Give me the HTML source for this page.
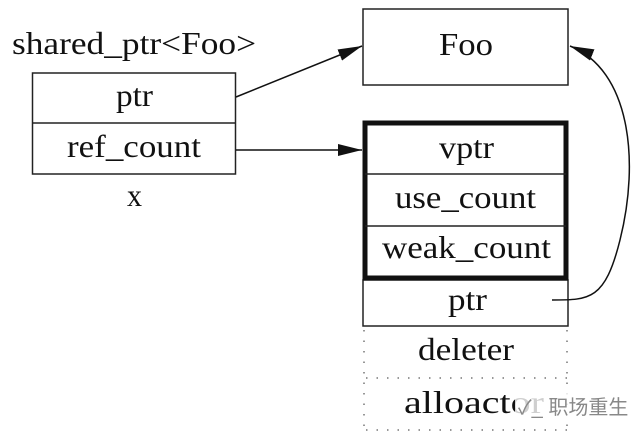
<!DOCTYPE html>
<html><head><style>body{margin:0;background:#fff}svg{display:block}text{font-family:"Liberation Serif",serif;font-size:32px;fill:#111}</style></head>
<body>
<svg width="640" height="438" viewBox="0 0 640 438" xmlns="http://www.w3.org/2000/svg">
<defs><marker id="b" markerWidth="24" markerHeight="12" refX="24" refY="6" orient="auto" markerUnits="userSpaceOnUse"><path d="M0,0 L24,6 L0,12 z" fill="#111"/></marker></defs>
<g stroke="#222" stroke-width="1.5" fill="none">
<rect x="32.5" y="73" width="203" height="101"/>
<line x1="32" y1="123" x2="236" y2="123"/>
<rect x="363" y="9" width="205" height="76"/>
<rect x="363" y="280" width="205" height="46"/>
</g>
<rect x="365" y="123" width="201" height="155" fill="none" stroke="#111" stroke-width="5"/>
<line x1="365" y1="174" x2="566" y2="174" stroke="#222" stroke-width="1.5"/>
<line x1="365" y1="226" x2="566" y2="226" stroke="#222" stroke-width="1.5"/>
<g stroke="#777" stroke-width="1.5" stroke-dasharray="1.5,9" fill="none">
<line x1="364" y1="330" x2="364" y2="430"/>
<line x1="567" y1="330" x2="567" y2="430"/>
<line x1="366" y1="378" x2="568" y2="378"/>
<line x1="366" y1="430" x2="568" y2="430"/>
</g>
<g stroke="#111" stroke-width="1.5" fill="none">
<line x1="236" y1="97" x2="362" y2="46" marker-end="url(#b)"/>
<line x1="236" y1="150" x2="362" y2="150" marker-end="url(#b)"/>
<path d="M552,300 C590,300 605,300 620,240 C640,160 630,70 570,46" marker-end="url(#b)"/>
</g>
<g lengthAdjust="spacingAndGlyphs">
<text x="12" y="54" textLength="244" lengthAdjust="spacingAndGlyphs">shared_ptr&lt;Foo&gt;</text>
<text x="116" y="106" textLength="37" lengthAdjust="spacingAndGlyphs">ptr</text>
<text x="67" y="157" textLength="134" lengthAdjust="spacingAndGlyphs">ref_count</text>
<text x="127" y="206" textLength="15" lengthAdjust="spacingAndGlyphs">x</text>
<text x="439" y="55" textLength="54" lengthAdjust="spacingAndGlyphs">Foo</text>
<text x="439" y="158" textLength="55" lengthAdjust="spacingAndGlyphs">vptr</text>
<text x="395" y="208" textLength="141" lengthAdjust="spacingAndGlyphs">use_count</text>
<text x="382" y="258" textLength="169" lengthAdjust="spacingAndGlyphs">weak_count</text>
<text x="448" y="310" textLength="39" lengthAdjust="spacingAndGlyphs">ptr</text>
<text x="418" y="360" textLength="96" lengthAdjust="spacingAndGlyphs">deleter</text>
<text x="404" y="413" textLength="140" lengthAdjust="spacingAndGlyphs">alloactor</text>
</g>
<rect x="515" y="390" width="113" height="34" fill="#fff" opacity="0.8"/>
<text x="518" y="414" style="font-size:20px;fill:#888;font-family:'Liberation Sans','Noto Sans CJK SC',sans-serif">✓_ 职场重生</text>
</svg>
</body></html>
